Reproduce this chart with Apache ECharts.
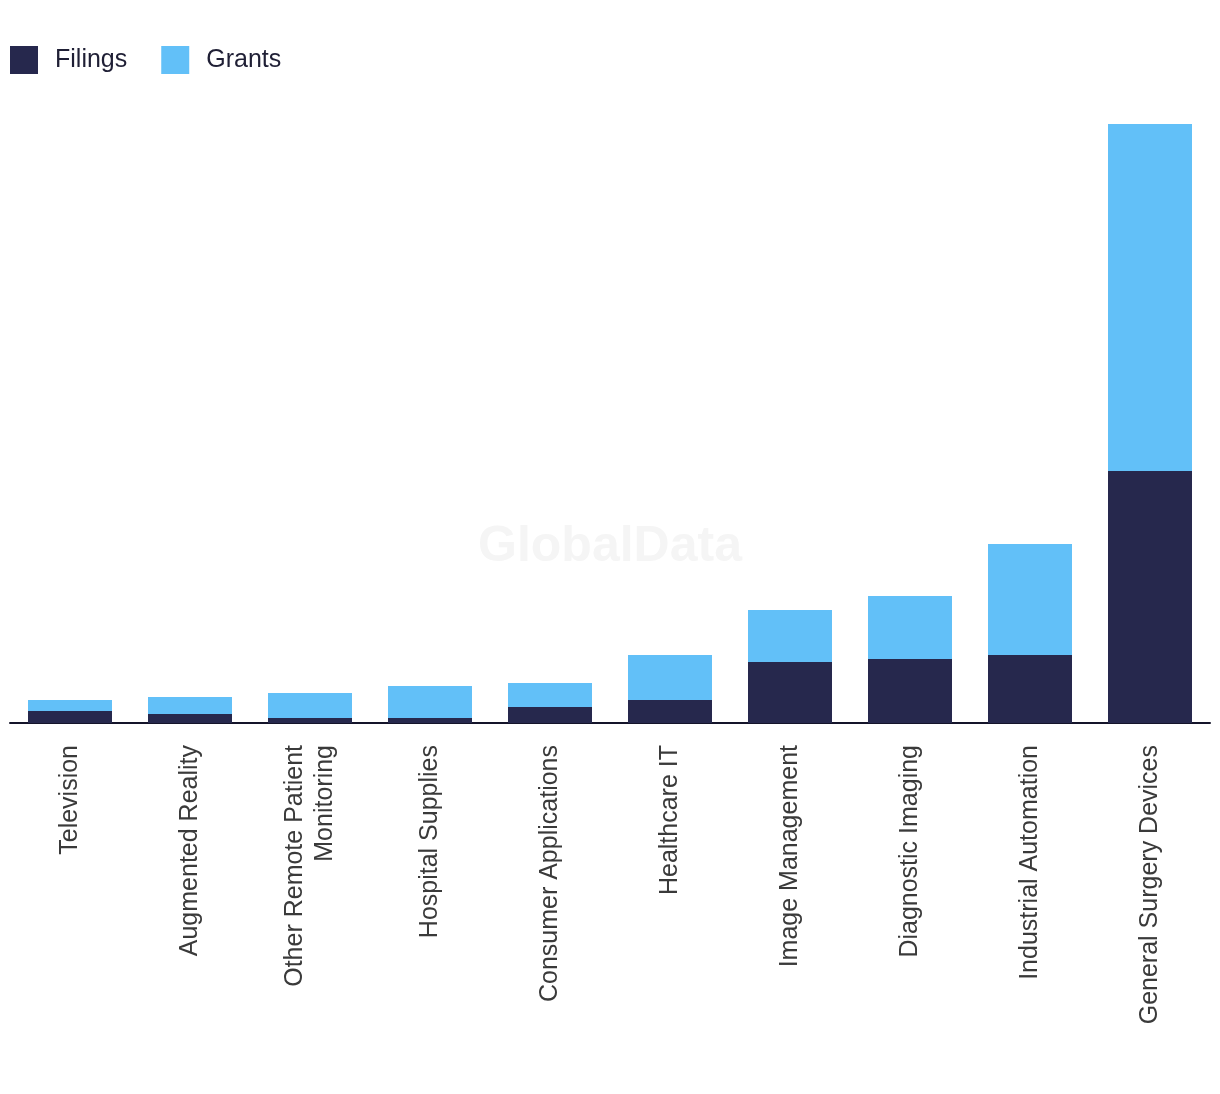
<!DOCTYPE html>
<html>
<head>
<meta charset="utf-8">
<script src="https://cdn.jsdelivr.net/npm/echarts@6/dist/echarts.min.js"></script>
<style>
html,body{margin:0;padding:0;background:#fff;}
#chart{width:1220px;height:1094px;}
</style>
</head>
<body>
<div id="chart"></div>
<script>
var categories = ['Television', 'Augmented Reality', 'Other Remote Patient\nMonitoring', 'Hospital Supplies', 'Consumer Applications', 'Healthcare IT', 'Image Management', 'Diagnostic Imaging', 'Industrial Automation', 'General Surgery Devices'];
var filings = [12, 9, 5, 5, 16, 23, 61, 64, 68, 252];
var grants = [11, 17, 25, 32, 24, 45, 52, 63, 111, 347];
var seriesNames = ['Filings', 'Grants'];

var chart = echarts.init(document.getElementById('chart'), null, {renderer: 'canvas'});
chart.setOption({
  animation: false,
  backgroundColor: '#ffffff',
  graphic: [{
    type: 'text',
    left: 'center',
    top: 522,
    z: 0,
    style: {
      text: 'GlobalData',
      fontFamily: 'Liberation Sans, Arial, sans-serif',
      fontWeight: 'bold',
      fontSize: 50,
      fill: '#f5f5f5'
    }
  }],
  legend: {
    left: 10,
    top: 46,
    padding: 0,
    itemWidth: 28,
    itemHeight: 28,
    itemGap: 34,
    icon: 'rect',
    data: seriesNames,
    textStyle: {
      fontFamily: 'Liberation Sans, Arial, sans-serif',
      fontSize: 25,
      color: '#1f1f35',
      padding: [0, 0, 0, 12]
    }
  },
  grid: {
    left: 10,
    right: 10,
    top: 124,
    bottom: 371,
    containLabel: false
  },
  xAxis: {
    type: 'category',
    data: categories,
    axisLine: {show: true, lineStyle: {color: '#14142a', width: 2}},
    axisTick: {show: false},
    axisLabel: {
      rotate: 90,
      interval: 0,
      margin: 22,
      fontFamily: 'Liberation Sans, Arial, sans-serif',
      fontSize: 25,
      lineHeight: 30,
      color: '#3a3a3a'
    }
  },
  yAxis: {
    type: 'value',
    min: 0,
    max: 599,
    show: false,
    splitLine: {show: false}
  },
  series: [{
    name: seriesNames[0],
    type: 'bar',
    stack: 'total',
    barWidth: '70%',
    data: filings,
    itemStyle: {color: '#26284d'}
  }, {
    name: seriesNames[1],
    type: 'bar',
    stack: 'total',
    barWidth: '70%',
    data: grants,
    itemStyle: {color: '#62c0f8'}
  }]
});
</script>
</body>
</html>
